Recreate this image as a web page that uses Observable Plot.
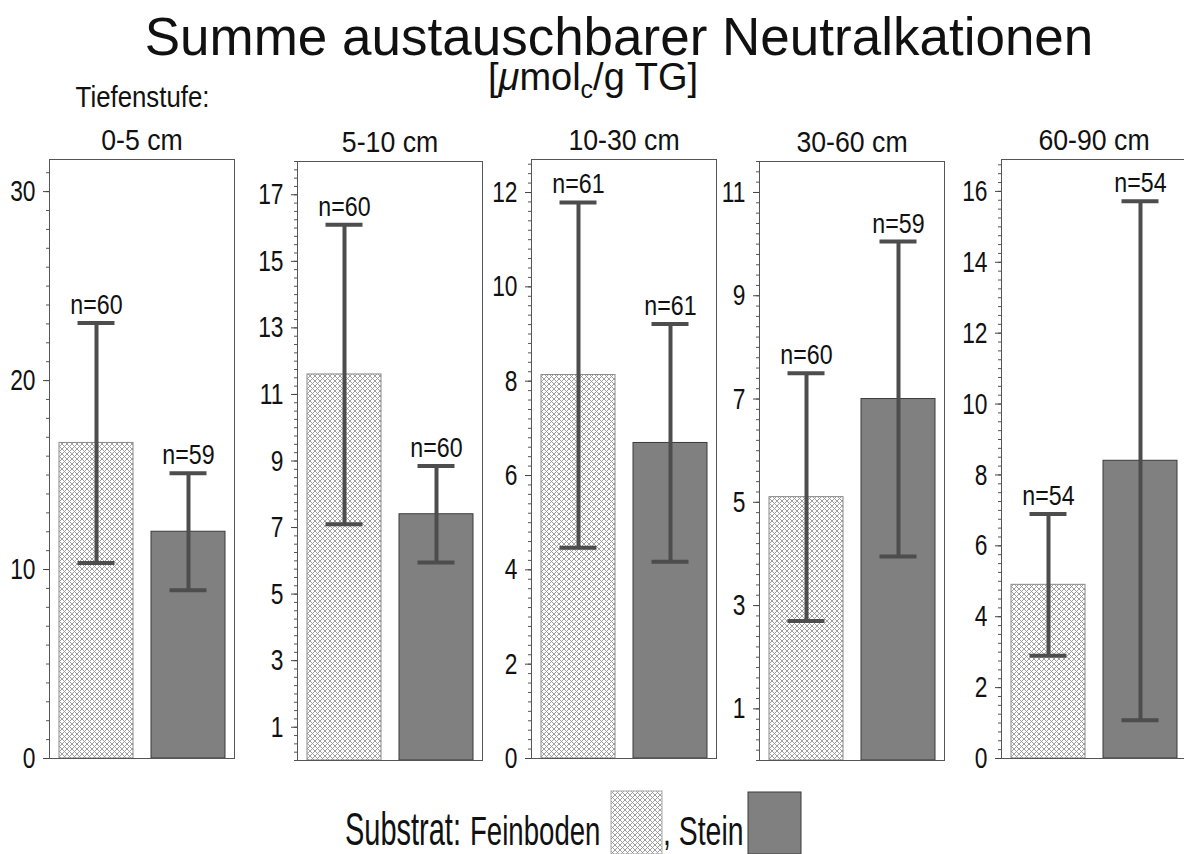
<!DOCTYPE html>
<html>
<head>
<meta charset="utf-8">
<script src="https://cdn.jsdelivr.net/npm/d3@7"></script>
<script src="https://cdn.jsdelivr.net/npm/@observablehq/plot@0.6"></script>
<style>
  html, body { margin: 0; padding: 0; background: #fff; overflow: hidden; }
  #page { position: relative; width: 1184px; height: 854px; overflow: hidden; background: #fff;
          font-family: "Liberation Sans", Arial, sans-serif; color: #111; }
  #page > svg { position: absolute; overflow: visible; }
</style>
</head>
<body>
<!-- shared fill pattern for the Feinboden bars and legend swatch -->
<svg width="0" height="0" style="position:absolute">
  <defs>
    <pattern id="hatch" width="5" height="5" patternUnits="userSpaceOnUse">
      <rect width="5" height="5" fill="#fff"/>
      <path d="M0,0L5,5M5,0L0,5" stroke="#959595" stroke-width="0.9"/>
    </pattern>
  </defs>
</svg>
<div id="page"></div>
<script>
// ---- data ----
const panelTitles = ["0-5 cm", "5-10 cm", "10-30 cm", "30-60 cm", "60-90 cm"];
const substrates = ["Feinboden", "Stein"];
const meanFein  = [16.7, 11.6, 8.13, 5.1, 4.9];
const sdFein    = [6.35, 4.5, 3.66, 2.4, 2.0];
const nFein     = [60, 60, 61, 60, 54];
const meanStein = [12.0, 7.4, 6.69, 7.0, 8.4];
const sdStein   = [3.1, 1.45, 2.52, 3.05, 7.32];
const nStein    = [59, 60, 61, 59, 54];
const yMax      = [31.7, 18, 12.7, 11.6, 16.9];
const majorTicks = [
  [0, 10, 20, 30],
  [1, 3, 5, 7, 9, 11, 13, 15, 17],
  [0, 2, 4, 6, 8, 10, 12],
  [1, 3, 5, 7, 9, 11],
  [0, 2, 4, 6, 8, 10, 12, 14, 16]
];
const minorStep = [1, 0.25, 0.2, 0.2, 0.25];
const titleText = "Summe austauschbarer Neutralkationen";
const depthLabel = "Tiefenstufe:";
const legendTitle = "Substrat:";

// ---- layout ----
const frameLeft = [49, 297, 531, 759, 1001];
const frameTop  = [159, 161, 159, 161, 159];
const FW = 185, FH = 599;
const ML = 52, MR = 4, MT = 50, MB = 4;
const barColor = "#808080", errColor = "#4d4d4d";

const page = document.getElementById("page");

// narrow text horizontally around its anchor point
function squeeze(svg, selector, sx, filter = () => true) {
  svg.querySelectorAll(selector).forEach(t => {
    if (!filter(t)) return;
    const tr = t.getAttribute("transform");
    if (tr) t.setAttribute("transform", `${tr} scale(${sx},1)`);
    else {
      const x = +t.getAttribute("x") || 0, y = +t.getAttribute("y") || 0;
      t.removeAttribute("x"); t.removeAttribute("y");
      t.setAttribute("transform", `translate(${x},${y}) scale(${sx},1)`);
    }
  });
}

panelTitles.forEach((title, i) => {
  const rows = [
    {substrat: substrates[0], mean: meanFein[i], sd: sdFein[i], n: nFein[i]},
    {substrat: substrates[1], mean: meanStein[i], sd: sdStein[i], n: nStein[i]}
  ];
  const lo = d => d.mean - d.sd, hi = d => d.mean + d.sd;
  const minor = d3.range(0, yMax[i] + 1e-9, minorStep[i]);

  const svg = Plot.plot({
    width: FW + ML + MR, height: FH + MT + MB,
    marginLeft: ML, marginRight: MR, marginTop: MT, marginBottom: MB,
    style: {fontFamily: "'Liberation Sans', Arial, sans-serif", color: "#111", background: "transparent", overflow: "visible"},
    x: {type: "band", domain: substrates, paddingInner: 0.2, paddingOuter: 0.097, axis: null},
    y: {domain: [0, yMax[i]], label: null},
    marks: [
      Plot.barY(rows.filter(d => d.substrat === substrates[0]), {x: "substrat", y: "mean", fill: "url(#hatch)", stroke: "#888", strokeWidth: 1}),
      Plot.barY(rows.filter(d => d.substrat === substrates[1]), {x: "substrat", y: "mean", fill: barColor, stroke: "#3a3a3a", strokeWidth: 1}),
      Plot.ruleX(rows, {x: "substrat", y1: lo, y2: hi, stroke: errColor, strokeWidth: 4}),
      Plot.tickY(rows, {x: "substrat", y: hi, insetLeft: 18.5, insetRight: 18.5, stroke: errColor, strokeWidth: 4}),
      Plot.tickY(rows, {x: "substrat", y: lo, insetLeft: 18.5, insetRight: 18.5, stroke: errColor, strokeWidth: 4}),
      Plot.text(rows, {x: "substrat", y: hi, text: d => `n=${d.n}`, lineAnchor: "bottom", dy: -9, fontSize: 27, fill: "#111"}),
      Plot.frame({stroke: "#555"}),
      Plot.axisY(minor, {tickSize: 3, tickFormat: () => "", stroke: "#555", label: null}),
      Plot.axisY(majorTicks[i], {tickSize: 6, tickPadding: 8, fontSize: 30, tickFormat: d => String(d), stroke: "#444", label: null}),
      Plot.text([title], {frameAnchor: "top", lineAnchor: "bottom", dy: -10, fontSize: 29, fill: "#111"})
    ]
  });
  svg.style.left = (frameLeft[i] - ML) + "px";
  svg.style.top = (frameTop[i] - MT) + "px";
  page.appendChild(svg);

  squeeze(svg, "g[aria-label='y-axis tick label'] text", 0.76);
  squeeze(svg, "g[aria-label='text'] text", 0.86, t => t.textContent.startsWith("n="));
  squeeze(svg, "g[aria-label='text'] text", 0.92, t => !t.textContent.startsWith("n="));
});

// ---- title, subtitle and legend ----
const over = d3.select(page).append("svg")
  .attr("width", 1184).attr("height", 854)
  .style("left", "0px").style("top", "0px")
  .attr("font-family", "'Liberation Sans', Arial, sans-serif")
  .attr("fill", "#111");

over.append("text").attr("x", 619).attr("y", 55).attr("text-anchor", "middle")
  .attr("font-size", 53).text(titleText);

const sub = over.append("text").attr("x", 593).attr("y", 90).attr("text-anchor", "middle").attr("font-size", 38);
sub.append("tspan").text("[");
sub.append("tspan").attr("font-style", "italic").text("\u03bc");
sub.append("tspan").text("mol");
sub.append("tspan").attr("font-size", 25).attr("dy", 8).text("c");
sub.append("tspan").attr("dy", -8).text("/g TG]");

over.append("text").attr("transform", "translate(142.5,107) scale(0.86,1)")
  .attr("text-anchor", "middle").attr("font-size", 30).text(depthLabel);

// legend
over.append("text").attr("transform", "translate(345,845) scale(0.63,1)")
  .attr("font-size", 46).text(legendTitle);
over.append("text").attr("transform", "translate(470,845) scale(0.69,1)")
  .attr("font-size", 40).text(substrates[0]);
over.append("rect").attr("x", 611).attr("y", 791).attr("width", 51).attr("height", 63)
  .attr("fill", "url(#hatch)").attr("stroke", "#aaa");
over.append("text").attr("transform", "translate(663,845) scale(0.71,1)")
  .attr("font-size", 40).text(", " + substrates[1]);
over.append("rect").attr("x", 748).attr("y", 792).attr("width", 53).attr("height", 62)
  .attr("fill", barColor).attr("stroke", "#3a3a3a");
</script>
</body>
</html>
